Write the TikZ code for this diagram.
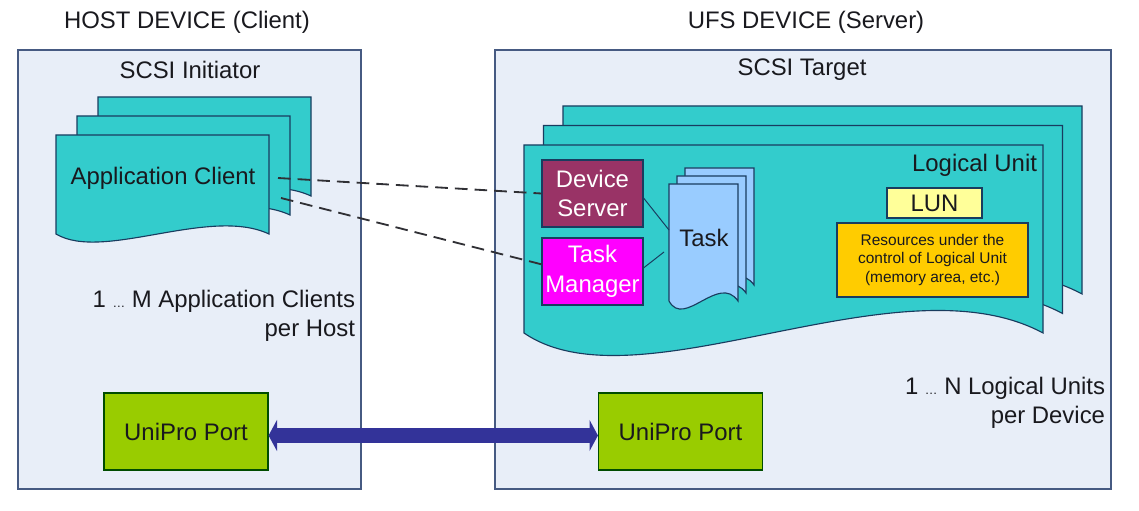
\documentclass[tikz,border=0pt]{standalone}
\usepackage{fontspec}
\setmainfont{Liberation Sans}
\usepackage{tikz}
\usetikzlibrary{arrows.meta,positioning,calc}
\definecolor{boxbg}{RGB}{232,238,248}
\definecolor{boxline}{RGB}{70,90,130}
\definecolor{lucyan}{RGB}{51,204,204}
\definecolor{pageline}{RGB}{25,60,95}
\definecolor{dsfill}{RGB}{153,51,102}
\definecolor{tmfill}{RGB}{255,0,255}
\definecolor{taskfill}{RGB}{153,204,255}
\definecolor{lunfill}{RGB}{255,255,153}
\definecolor{resfill}{RGB}{255,204,0}
\definecolor{upfill}{RGB}{153,204,0}
\definecolor{linkblue}{RGB}{51,51,153}
\definecolor{ink}{RGB}{25,25,30}
\tikzset{
    outerbox/.style={draw=boxline, fill=boxbg, line width=0.9pt},
    page/.style={draw=pageline, fill=lucyan, line width=0.8pt},
    unit/.style={draw=pageline, line width=0.8pt, align=center, inner sep=0pt},
    port/.style={draw=black!70!green, fill=upfill, line width=0.8pt,
        minimum width={164*0.025cm}, minimum height={77*0.025cm}},
    dashlink/.style={draw=ink!90, line width=1.3pt, dash pattern=on 9pt off 5pt},
    tasklink/.style={draw=pageline, line width=0.7pt},
    unilink/.style={draw=linkblue, line width=10.6pt,
        {Triangle[length=6pt,width=22pt]}-{Triangle[length=6pt,width=22pt]}},
}
\newcommand{\docpage}[6]{%
    \draw[#1] ({#2},{#3}) -- ({#2+#4},{#3}) -- ({#2+#4},{#3+#5})
        .. controls ({#2+0.72*#4},{#3+#5-#6}) and ({#2+0.22*#4},{#3+#5+#6}) .. ({#2},{#3+#5}) -- cycle;}
\newcommand{\smalldots}{{\fontsize{9}{9}\selectfont …}}

\begin{document}
\begin{tikzpicture}[x=0.025cm, y=-0.025cm, every node/.style={text=ink}, font=\fontsize{17}{21}\selectfont]
    \useasboundingbox (0,0) rectangle (1139,511);
    \draw[outerbox] (18,50) rectangle (361,489);
    \draw[outerbox] (495,50) rectangle (1111,489);
    \node (host) at (187,22) {HOST DEVICE (Client)};
    \node (ufs) at (806,22) {UFS DEVICE (Server)};
    \node (init) at (190,70) {SCSI Initiator};
    \node (target) at (802,70) {SCSI Target};

    \foreach \k in {2,1,0} {
        \docpage{page}{56+21*\k}{135-19*\k}{213}{99}{28}
    }
    \node (ac) at (163,178) {Application Client};
    \coordinate (ac-1) at (278,178);
    \coordinate (ac-2) at (281,198);

    \foreach \k in {2,1,0} {
        \docpage{page}{524+19.5*\k}{145-19.5*\k}{519}{188}{78}
    }
    \node[anchor=east] (lu) at (1042,165) {Logical Unit};
    \node[unit, fill=dsfill, minimum width={101*0.025cm}, minimum height={67*0.025cm}] (ds) at (592.5,193.5) {\color{white}Device\\\color{white}Server};
    \node[unit, fill=tmfill, minimum width={101*0.025cm}, minimum height={67*0.025cm}] (tm) at (592.5,271.5) {\color{white}Task\\\color{white}Manager};
    \foreach \k in {2,1,0} {
        \docpage{page, fill=taskfill}{669+8*\k}{184-8*\k}{69}{117}{28}
    }
    \node (task) at (704,238) {Task};
    \coordinate (task-1) at (669,230);
    \coordinate (task-2) at (664,252);
    \node[unit, fill=lunfill, minimum width={95*0.025cm}, minimum height={30*0.025cm}] (lun) at (934.5,203) {LUN};
    \node[unit, fill=resfill, minimum width={191*0.025cm}, minimum height={74*0.025cm},
        font=\fontsize{11}{13.5}\selectfont] (res) at (932.5,260) {Resources under the\\control of Logical Unit\\(memory area, etc.)};

    \draw[dashlink] (ac-1) -- (ds.west);
    \draw[dashlink] (ac-2) -- (tm.172);
    \draw[tasklink] (ds.-5) -- (task-1);
    \draw[tasklink] (tm.4) -- (task-2);

    \node[anchor=east, align=right] (mclients) at (360,316) {1 \smalldots{} M Application Clients\\per Host};
    \node[anchor=east, align=right] (nunits) at (1110,403) {1 \smalldots{} N Logical Units\\per Device};

    \node[port] (up-host) at (186,431.5) {UniPro Port};
    \node[port] (up-ufs) at (680.5,431.5) {UniPro Port};
    \draw[unilink] ($(up-host.east)+(0,4)$) -- ($(up-ufs.west)+(0,4)$);
\end{tikzpicture}
\end{document}
